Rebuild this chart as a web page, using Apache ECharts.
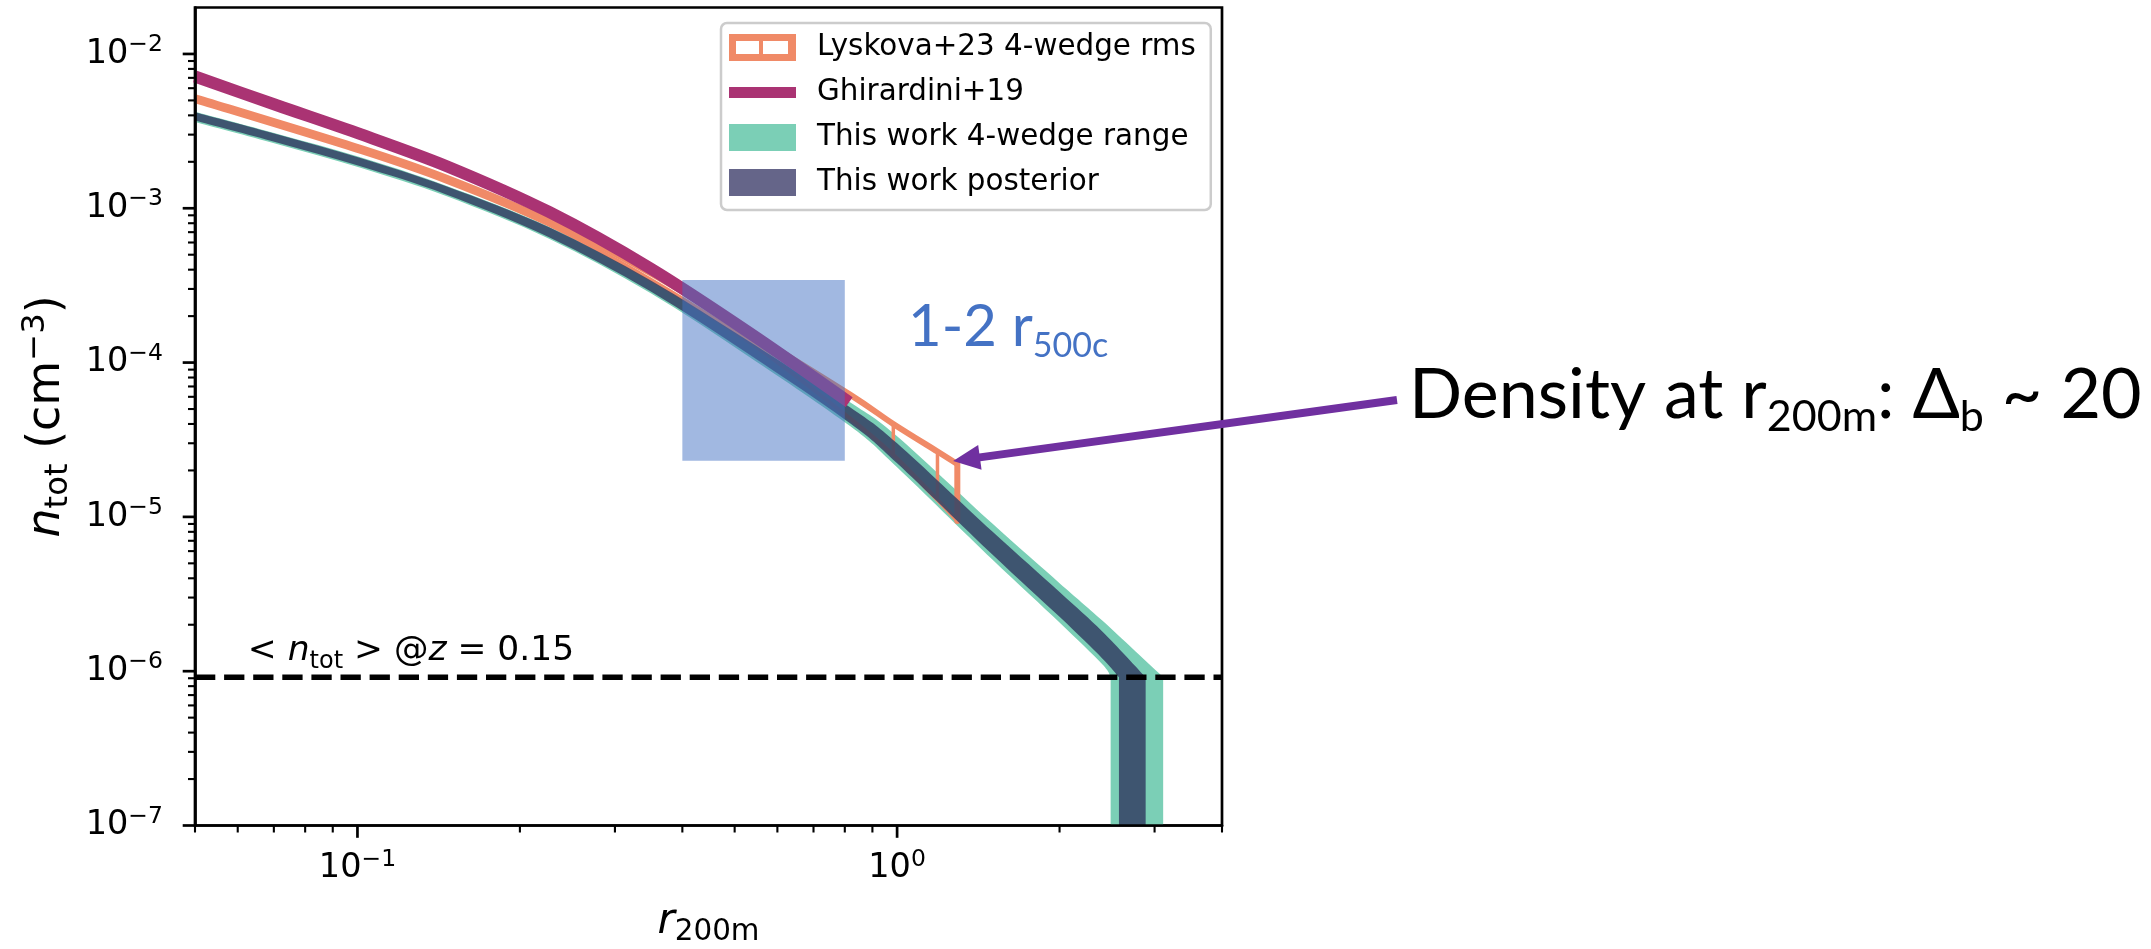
<!DOCTYPE html>
<html>
<head>
<meta charset="utf-8">
<title>n_tot vs r200m</title>
<script src="https://cdn.jsdelivr.net/npm/echarts@6.0.0/dist/echarts.min.js"></script>
<style>
html,body{margin:0;padding:0;background:#ffffff;overflow:hidden;}
#chart{width:2151px;height:949px;}
</style>
</head>
<body>
<div id="chart"></div>
<script>
// ---------------- data ----------------
// Ghirardini+19 profile
const ghirardiniR = [0.05, 0.0709, 0.1013, 0.146, 0.2265, 0.349, 0.534, 0.815];
const ghirardiniN = [7.14e-3, 4.65e-3, 3.02e-3, 1.88e-3, 9.46e-4, 4.08e-4, 1.55e-4, 5.54e-5];

// This work posterior band (upper / lower edges)
const postR      = [0.05, 0.0709, 0.1013, 0.146, 0.2265, 0.349, 0.534, 0.818, 1.0, 1.4997, 2.0, 2.4];
const postUpperN = [4.19e-3, 3.02e-3, 2.12e-3, 1.39e-3, 7.53e-4, 3.42e-4, 1.36e-4, 5.14e-5, 3.0e-5, 8.06e-6, 3.26e-6, 1.81e-6];
const postLowerN = [3.70e-3, 2.67e-3, 1.87e-3, 1.23e-3, 6.49e-4, 2.90e-4, 1.12e-4, 4.05e-5, 2.23e-5, 5.73e-6, 2.25e-6, 1.21e-6];
const postEdgeR  = [2.577, 2.888];   // [lower-left, upper-right] radius where the band reaches the mean density

// This work 4-wedge range band
const rangeR      = [0.05, 0.0709, 0.1013, 0.146, 0.2265, 0.349, 0.534, 0.818, 1.0, 1.4997, 2.0, 2.4];
const rangeUpperN = [4.22e-3, 3.04e-3, 2.14e-3, 1.40e-3, 7.59e-4, 3.49e-4, 1.42e-4, 5.54e-5, 3.33e-5, 9.08e-6, 3.72e-6, 2.13e-6];
const rangeLowerN = [3.62e-3, 2.61e-3, 1.83e-3, 1.20e-3, 6.35e-4, 2.82e-4, 1.08e-4, 3.88e-5, 2.10e-5, 5.32e-6, 2.07e-6, 1.11e-6];
const rangeEdgeR  = [2.487, 3.112];

// Lyskova+23 4-wedge rms (outline)
const lyskovaR      = [0.05, 0.1013, 0.146, 0.2265, 0.349, 0.534, 0.818, 0.984, 1.188, 1.293];
const lyskovaUpperN = [5.25e-3, 2.46e-3, 1.58e-3, 8.31e-4, 3.80e-4, 1.56e-4, 6.20e-5, 4.0e-5, 2.65e-5, 2.2e-5];
const lyskovaLowerN = [4.95e-3, 2.32e-3, 1.49e-3, 7.82e-4, 3.46e-4, 1.35e-4, 4.35e-5, 2.52e-5, 1.29e-5, 9.4e-6];
const lyskovaWedgeEndR = [0.984, 1.188, 1.293];

// mean density at z = 0.15
const meanDensity = 9.15e-7;
const meanLineR = [0.05, 4];

// 1-2 r500c region
const r500cBoxR = [0.4, 0.8];
const r500cBoxN = [2.31e-5, 3.43e-4];

// arrow tip (points at end of Lyskova profile)
const arrowTip = [1.27, 2.3e-5];

// axes
const xRange = [0.05, 4];
const yRange = [1e-7, 0.02];
const xMajorTicks = [0.1, 1];
const xTickLabels = ['10{sup|\u22121}', '10{sup|0}'];
const xMinorTicks = [0.05, 0.06, 0.07, 0.08, 0.09, 0.2, 0.3, 0.4, 0.5, 0.6, 0.7, 0.8, 0.9, 2, 3, 4];
const yMajorTicks = [1e-7, 1e-6, 1e-5, 1e-4, 1e-3, 1e-2];
const yTickLabels = ['10{sup|\u22127}', '10{sup|\u22126}', '10{sup|\u22125}', '10{sup|\u22124}', '10{sup|\u22123}', '10{sup|\u22122}'];
const yMinorTicks = [2e-7,3e-7,4e-7,5e-7,6e-7,7e-7,8e-7,9e-7,
                     2e-6,3e-6,4e-6,5e-6,6e-6,7e-6,8e-6,9e-6,
                     2e-5,3e-5,4e-5,5e-5,6e-5,7e-5,8e-5,9e-5,
                     2e-4,3e-4,4e-4,5e-4,6e-4,7e-4,8e-4,9e-4,
                     2e-3,3e-3,4e-3,5e-3,6e-3,7e-3,8e-3,9e-3];

// ---------------- styles ----------------
const ORANGE = '#F08A67', MAGENTA = '#AA3373', TEAL = '#7BCFB6';
const POST = '#354467', POST_LEGEND = '#656589', BOXBLUE = '#4472C4', ARROW = '#7030A0';
const FONT = 'DejaVu Sans';

function labelFormatter(ticks, labels) {
  return function (v) {
    for (let i = 0; i < ticks.length; i++) {
      if (Math.abs(Math.log10(v) - Math.log10(ticks[i])) < 1e-6) return labels[i];
    }
    return '';
  };
}

// smooth (Catmull-Rom) path through already-projected pixel points
function splineSegs(p) {
  let s = '';
  for (let i = 0; i < p.length - 1; i++) {
    const p0 = p[i - 1] || p[i], p1 = p[i], p2 = p[i + 1], p3 = p[i + 2] || p[i + 1];
    const c1x = p1[0] + (p2[0] - p0[0]) / 6, c1y = p1[1] + (p2[1] - p0[1]) / 6;
    const c2x = p2[0] - (p3[0] - p1[0]) / 6, c2y = p2[1] - (p3[1] - p1[1]) / 6;
    s += ' C' + c1x + ',' + c1y + ' ' + c2x + ',' + c2y + ' ' + p2[0] + ',' + p2[1];
  }
  return s;
}

function bandSeries(name, rs, up, lo, edgeR, color, opacity, z) {
  const data = rs.map((r, i) => [r, up[i]]);
  return {
    type: 'custom', name: name, coordinateSystem: 'cartesian2d',
    data: data, encode: { x: 0, y: 1 }, clip: true, z: z, silent: true,
    renderItem: function (params, api) {
      if (params.dataIndex !== 0) return null;
      const upper = rs.map((r, i) => api.coord([r, up[i]])).concat([api.coord([edgeR[1], meanDensity])]);
      const lower = rs.map((r, i) => api.coord([r, lo[i]])).concat([api.coord([edgeR[0], meanDensity])]).reverse();
      const upBottom = api.coord([edgeR[1], yRange[0]]);
      const loBottom = api.coord([edgeR[0], yRange[0]]);
      let d = 'M' + upper[0][0] + ',' + upper[0][1] + splineSegs(upper);
      d += ' L' + upBottom[0] + ',' + (upBottom[1] + 2) + ' L' + loBottom[0] + ',' + (loBottom[1] + 2);
      d += ' L' + lower[0][0] + ',' + lower[0][1] + splineSegs(lower) + ' Z';
      return { type: 'path', shape: { pathData: d }, style: { fill: color, opacity: opacity } };
    }
  };
}

function tickSeries(values, dir, len, width) {
  const data = values.map(v => dir === 'x' ? [v, yRange[0]] : [xRange[0], v]);
  return {
    type: 'custom', coordinateSystem: 'cartesian2d', data: data, encode: { x: 0, y: 1 },
    clip: false, z: 20, silent: true,
    renderItem: function (params, api) {
      const p = api.coord([api.value(0), api.value(1)]);
      const shape = dir === 'x'
        ? { x1: p[0], y1: p[1], x2: p[0], y2: p[1] + len }
        : { x1: p[0] - len, y1: p[1], x2: p[0], y2: p[1] };
      return { type: 'line', shape: shape, style: { stroke: '#000', lineWidth: width } };
    }
  };
}

const chart = echarts.init(document.getElementById('chart'), null, { renderer: 'canvas', width: 2151, height: 949 });

const supStyle = { fontFamily: FONT, fontSize: 23.5, lineHeight: 24, verticalAlign: 'top', color: '#000' };

const option = {
  animation: false,
  backgroundColor: '#ffffff',
  textStyle: { fontFamily: FONT },
  grid: {
    left: 195, top: 7.5, width: 1027, height: 818,
    show: true, borderColor: '#000', borderWidth: 2.7, backgroundColor: 'transparent',
    containLabel: false, outerBoundsMode: 'none'
  },
  legend: {
    orient: 'vertical', left: 721, top: 23,
    itemWidth: 67, itemHeight: 27, itemGap: 16,
    padding: [10, 15, 13, 8],
    backgroundColor: '#ffffff', borderColor: '#CCCCCC', borderWidth: 2.5, borderRadius: 6,
    symbolKeepAspect: true, selectedMode: false,
    textStyle: { fontFamily: FONT, fontSize: 29.4, color: '#000', lineHeight: 27, padding: [0, 0, 0, 16] },
    data: [
      { name: 'Lyskova+23 4-wedge rms', icon: 'path://M0,0H67V27H0Z M7,7V20H30V7Z M34,7V20H59V7Z', itemStyle: { color: ORANGE, borderWidth: 0 } },
      { name: 'Ghirardini+19', icon: 'path://M0,0H67V11H0Z', itemStyle: { color: MAGENTA, borderWidth: 0 } },
      { name: 'This work 4-wedge range', icon: 'rect', itemStyle: { color: TEAL, borderWidth: 0 } },
      { name: 'This work posterior', icon: 'rect', itemStyle: { color: POST_LEGEND, borderWidth: 0 } }
    ]
  },
  xAxis: {
    type: 'log', logBase: 10, min: xRange[0], max: xRange[1], z: 10,
    axisLine: { show: true, onZero: false, lineStyle: { color: '#000', width: 2.7 } },
    axisTick: { show: false }, minorTick: { show: false },
    splitLine: { show: false }, minorSplitLine: { show: false },
    axisLabel: {
      formatter: labelFormatter(xMajorTicks, xTickLabels),
      margin: 22, color: '#000', fontFamily: FONT, fontSize: 33.5, lineHeight: 42,
      rich: { sup: supStyle }
    },
    name: '{i|r}{sub|200m}', nameLocation: 'middle', nameGap: 71.5,
    nameTextStyle: {
      color: '#000', fontFamily: FONT, fontSize: 42, lineHeight: 50,
      rich: {
        i: { fontFamily: FONT, fontStyle: 'italic', fontSize: 42, lineHeight: 50, color: '#000' },
        sub: { fontFamily: FONT, fontSize: 29.4, lineHeight: 25.4, verticalAlign: 'bottom', color: '#000' }
      }
    }
  },
  yAxis: {
    type: 'log', logBase: 10, min: yRange[0], max: yRange[1], z: 10,
    axisLine: { show: true, onZero: false, lineStyle: { color: '#000', width: 2.7 } },
    axisTick: { show: false }, minorTick: { show: false },
    splitLine: { show: false }, minorSplitLine: { show: false },
    axisLabel: {
      formatter: labelFormatter(yMajorTicks, yTickLabels),
      margin: 32, color: '#000', fontFamily: FONT, fontSize: 33.5, lineHeight: 42,
      rich: { sup: supStyle }
    },
    name: '{i|n}{sub|tot} (cm{sup|\u22123})', nameLocation: 'middle', nameRotate: 90, nameGap: 120,
    nameTextStyle: {
      color: '#000', fontFamily: FONT, fontSize: 46, lineHeight: 55,
      rich: {
        i: { fontFamily: FONT, fontStyle: 'italic', fontSize: 46, lineHeight: 55, color: '#000' },
        sub: { fontFamily: FONT, fontSize: 32.2, lineHeight: 27.8, verticalAlign: 'bottom', color: '#000' },
        sup: { fontFamily: FONT, fontSize: 32.2, lineHeight: 30, verticalAlign: 'top', color: '#000' }
      }
    }
  },
  series: [
    bandSeries('This work 4-wedge range', rangeR, rangeUpperN, rangeLowerN, rangeEdgeR, TEAL, 1, 2),
    {
      type: 'custom', name: 'Lyskova+23 4-wedge rms', coordinateSystem: 'cartesian2d',
      data: lyskovaR.map((r, i) => [r, lyskovaUpperN[i]]), encode: { x: 0, y: 1 },
      clip: true, z: 3, silent: true,
      renderItem: function (params, api) {
        if (params.dataIndex !== 0) return null;
        const up = lyskovaR.map((r, i) => api.coord([r, lyskovaUpperN[i]]));
        const lo = lyskovaR.map((r, i) => api.coord([r, lyskovaLowerN[i]]));
        const children = [
          { type: 'path', shape: { pathData: 'M' + up[0][0] + ',' + up[0][1] + splineSegs(up) }, style: { stroke: ORANGE, lineWidth: 6, fill: null } },
          { type: 'path', shape: { pathData: 'M' + lo[0][0] + ',' + lo[0][1] + splineSegs(lo) }, style: { stroke: ORANGE, lineWidth: 4, fill: null } }
        ];
        lyskovaWedgeEndR.forEach(function (r, k) {
          const i = lyskovaR.indexOf(r);
          children.push({
            type: 'line',
            shape: { x1: up[i][0], y1: up[i][1], x2: lo[i][0], y2: lo[i][1] },
            style: { stroke: ORANGE, lineWidth: k === lyskovaWedgeEndR.length - 1 ? 6 : 3.5, lineCap: 'round' }
          });
        });
        return { type: 'group', children: children };
      }
    },
    bandSeries('This work posterior', postR, postUpperN, postLowerN, postEdgeR, POST, 0.88, 4),
    {
      type: 'line', name: 'Ghirardini+19',
      data: ghirardiniR.map((r, i) => [r, ghirardiniN[i]]),
      showSymbol: false, symbol: 'none', smooth: 0.3, clip: true, z: 5, silent: true,
      lineStyle: { color: MAGENTA, width: 12, cap: 'butt' }, itemStyle: { color: MAGENTA }
    },
    {
      type: 'line', name: 'mean density',
      data: meanLineR.map(r => [r, meanDensity]),
      showSymbol: false, symbol: 'none', clip: true, z: 6, silent: true,
      lineStyle: { color: '#000', width: 5.5, type: [20.3, 8.8], cap: 'butt' }
    },
    {
      type: 'custom', name: '1-2 r500c', coordinateSystem: 'cartesian2d',
      data: [[r500cBoxR[0], r500cBoxN[0], r500cBoxR[1], r500cBoxN[1]]],
      encode: { x: [0, 2], y: [1, 3] }, clip: true, z: 8, silent: true,
      renderItem: function (params, api) {
        const a = api.coord([api.value(0), api.value(3)]);
        const b = api.coord([api.value(2), api.value(1)]);
        return { type: 'rect', shape: { x: a[0], y: a[1], width: b[0] - a[0], height: b[1] - a[1] },
                 style: { fill: BOXBLUE, opacity: 0.5 } };
      }
    },
    tickSeries(xMajorTicks, 'x', 12.3, 2.7),
    tickSeries(xMinorTicks, 'x', 7, 2.1),
    tickSeries(yMajorTicks, 'y', 12.3, 2.7),
    tickSeries(yMinorTicks, 'y', 7, 2.1)
  ]
};

chart.setOption(option);

// ---------- annotations ----------
const tip = chart.convertToPixel({ gridIndex: 0 }, arrowTip);
const tail = [1397, 400];
const dx = tail[0] - tip[0], dy = tail[1] - tip[1];
const L = Math.hypot(dx, dy), ux = dx / L, uy = dy / L;
const headLen = 27, headHalf = 12.5;
const base = [tip[0] + ux * headLen, tip[1] + uy * headLen];
const px = -uy, py = ux;

chart.setOption({
  graphic: [
    {
      type: 'line', z: 100, silent: true,
      shape: { x1: tail[0], y1: tail[1], x2: base[0] - ux * 2, y2: base[1] - uy * 2 },
      style: { stroke: ARROW, lineWidth: 8 }
    },
    {
      type: 'polygon', z: 100, silent: true,
      shape: { points: [tip, [base[0] + px * headHalf, base[1] + py * headHalf], [base[0] - px * headHalf, base[1] - py * headHalf]] },
      style: { fill: ARROW }
    },
    {
      type: 'text', x: 908, y: 292.6, z: 100, silent: true,
      style: {
        text: '1-2 r{sub|500c}', fill: BOXBLUE, fontFamily: 'Lato', fontSize: 58, lineHeight: 70,
        align: 'left', verticalAlign: 'top',
        rich: { sub: { fill: BOXBLUE, fontFamily: 'Lato', fontSize: 34, lineHeight: 25, verticalAlign: 'bottom' } }
      }
    },
    {
      type: 'text', x: 1409, y: 352.9, z: 100, silent: true,
      style: {
        text: 'Density at r{sub|200m}: \u0394{sub|b} ~ 20', fill: '#000', fontFamily: 'Lato, "DejaVu Sans"', fontSize: 70, lineHeight: 86,
        align: 'left', verticalAlign: 'top',
        rich: { sub: { fill: '#000', fontFamily: 'Lato', fontSize: 43, lineHeight: 31, verticalAlign: 'bottom' } }
      }
    },
    {
      type: 'text', x: 247.8, y: 629.5, z: 100, silent: true,
      style: {
        text: '< {i|n}{sub|tot} > @{i|z} = 0.15', fill: '#000', fontFamily: FONT, fontSize: 34.5, lineHeight: 44,
        align: 'left', verticalAlign: 'top',
        rich: {
          i: { fill: '#000', fontFamily: FONT, fontStyle: 'italic', fontSize: 34.5, lineHeight: 44 },
          sub: { fill: '#000', fontFamily: FONT, fontSize: 24, lineHeight: 26, verticalAlign: 'bottom' }
        }
      }
    }
  ]
});
</script>
</body>
</html>
